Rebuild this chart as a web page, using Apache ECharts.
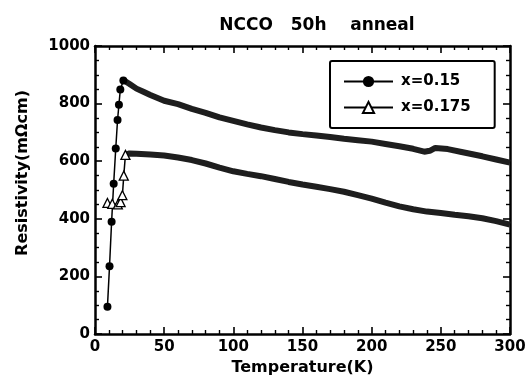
<!DOCTYPE html>
<html>
<head>
<meta charset="utf-8">
<script src="https://cdn.jsdelivr.net/npm/echarts@6/dist/echarts.min.js"></script>
<style>
html,body{margin:0;padding:0;background:#fff;overflow:hidden;}
#chart{width:529px;height:382px;}
</style>
</head>
<body>
<div id="chart"></div>
<script>
// ---- data ----
const titleText = 'NCCO   50h    anneal';
const seriesNames = ['x=0.15', 'x=0.175'];
const xTickValues = [0, 50, 100, 150, 200, 250, 300];
const yTickValues = [0, 200, 400, 600, 800, 1000];

// x=0.15 : individual markers in the superconducting transition
const tempMark015 = [9, 10.5, 12, 13.5, 15, 16.3, 17.3, 18.3, 20.5];
const resMark015  = [95, 235, 390, 522, 644, 743, 796, 849, 880];
// x=0.15 : dense measured band
const tempBand015 = [21, 25, 30, 35, 40, 50, 60, 70, 80, 90, 100, 110, 120, 130, 140, 150, 160, 170, 180, 190, 200, 210, 220, 230, 238, 242, 246, 255, 265, 280, 290, 300];
const resBand015  = [880, 868, 852, 841, 830, 810, 798, 782, 768, 752, 740, 728, 717, 708, 700, 694, 689, 684, 678, 673, 668, 660, 652, 643, 633, 636, 646, 642, 632, 617, 606, 595];

// x=0.175 : individual markers
const tempMark175 = [9, 12.5, 16.5, 18.5, 19.8, 20.8, 22];
const resMark175  = [455, 452, 450, 458, 482, 550, 622];
// x=0.175 : dense measured band
const tempBand175 = [22, 25, 30, 40, 50, 60, 70, 80, 90, 100, 110, 120, 130, 140, 150, 160, 170, 180, 190, 200, 210, 220, 230, 240, 250, 260, 270, 280, 290, 300];
const resBand175  = [622, 627, 626, 623, 620, 613, 604, 592, 578, 565, 556, 548, 538, 528, 519, 511, 503, 494, 482, 470, 456, 443, 433, 425, 420, 414, 409, 402, 392, 380];

// ---- build ----
const zip = (a, b) => a.map((v, i) => [v, b[i]]);
const FONT = 'DejaVu Sans';
const xMin = xTickValues[0], xMax = xTickValues[xTickValues.length - 1];
const yMin = yTickValues[0], yMax = yTickValues[yTickValues.length - 1];
const xInt = xTickValues[1] - xTickValues[0];
const yInt = yTickValues[1] - yTickValues[0];

const chart = echarts.init(document.getElementById('chart'));
chart.setOption({
  backgroundColor: '#fff',
  animation: false,
  color: ['#000', '#000'],
  title: {
    text: titleText,
    left: 312, top: 12, textAlign: 'center',
    textStyle: { fontFamily: FONT, fontSize: 17, fontWeight: 'bold', color: '#000' }
  },
  legend: {
    data: seriesNames,
    orient: 'vertical',
    left: 330, top: 61,
    padding: [13, 24, 13, 13],
    itemWidth: 49, itemHeight: 14, itemGap: 11,
    borderColor: '#000', borderWidth: 2, borderRadius: 2,
    backgroundColor: '#fff',
    textStyle: { fontFamily: FONT, fontSize: 15, fontWeight: 'bold', color: '#000', padding: [0, 0, 0, 3] }
  },
  grid: { left: 95, right: 19, top: 46, bottom: 48 },
  xAxis: [
    { type: 'value', min: xMin, max: xMax, interval: xInt, position: 'bottom',
      name: 'Temperature(K)', nameLocation: 'middle', nameGap: 23,
      nameTextStyle: { fontFamily: FONT, fontSize: 16, fontWeight: 'bold', color: '#000' },
      axisLine: { show: true, onZero: false, lineStyle: { color: '#000', width: 2.5 } },
      axisTick: { show: true, inside: true, length: 7, lineStyle: { color: '#000', width: 1.6 } },
      minorTick: { show: true, splitNumber: 5, length: 4, lineStyle: { color: '#000', width: 1.4 } },
      axisLabel: { margin: 6, formatter: v => String(v), fontFamily: FONT, fontSize: 15, fontWeight: 'bold', color: '#000' },
      splitLine: { show: false } },
    { type: 'value', min: xMin, max: xMax, interval: xInt, position: 'top',
      axisLine: { show: true, onZero: false, lineStyle: { color: '#000', width: 2.5 } },
      axisTick: { show: true, inside: true, length: 7, lineStyle: { color: '#000', width: 1.6 } },
      minorTick: { show: true, splitNumber: 5, length: 4, lineStyle: { color: '#000', width: 1.4 } },
      axisLabel: { show: false },
      splitLine: { show: false } }
  ],
  yAxis: [
    { type: 'value', min: yMin, max: yMax, interval: yInt, position: 'left',
      name: 'Resistivity(mΩcm)', nameLocation: 'middle', nameGap: 64,
      nameTextStyle: { fontFamily: FONT, fontSize: 16, fontWeight: 'bold', color: '#000', padding: [0, 0, 0, 34] },
      axisLine: { show: true, onZero: false, lineStyle: { color: '#000', width: 2.5 } },
      axisTick: { show: true, inside: true, length: 7, lineStyle: { color: '#000', width: 1.6 } },
      minorTick: { show: true, splitNumber: 4, length: 4, lineStyle: { color: '#000', width: 1.4 } },
      axisLabel: { margin: 5, formatter: v => String(v), fontFamily: FONT, fontSize: 15, fontWeight: 'bold', color: '#000' },
      splitLine: { show: false } },
    { type: 'value', min: yMin, max: yMax, interval: yInt, position: 'right',
      axisLine: { show: true, onZero: false, lineStyle: { color: '#000', width: 2.5 } },
      axisTick: { show: true, inside: true, length: 7, lineStyle: { color: '#000', width: 1.6 } },
      minorTick: { show: true, splitNumber: 4, length: 4, lineStyle: { color: '#000', width: 1.4 } },
      axisLabel: { show: false },
      splitLine: { show: false } }
  ],
  series: [
    {
      name: seriesNames[0], type: 'line', xAxisIndex: 0, yAxisIndex: 0,
      data: zip(tempMark015, resMark015),
      symbol: 'circle', symbolSize: 8, showSymbol: true,
      itemStyle: { color: '#000' },
      lineStyle: { color: '#000', width: 1.5 }, z: 4
    },
    {
      name: seriesNames[1], type: 'line', xAxisIndex: 0, yAxisIndex: 0,
      data: zip(tempMark175, resMark175),
      symbol: 'triangle', symbolSize: 9, showSymbol: true,
      itemStyle: { color: '#fff', borderColor: '#000', borderWidth: 1.3 },
      lineStyle: { color: '#000', width: 1.5 }, z: 5
    },
    {
      name: seriesNames[1], type: 'line', xAxisIndex: 0, yAxisIndex: 0,
      data: zip(tempBand175, resBand175), symbol: 'none', showSymbol: false,
      lineStyle: { color: '#1e1e1e', width: 6 }, z: 2
    },
    {
      name: seriesNames[0], type: 'line', xAxisIndex: 0, yAxisIndex: 0,
      data: zip(tempBand015, resBand015), symbol: 'none', showSymbol: false,
      lineStyle: { color: '#1e1e1e', width: 6 }, z: 2
    }
  ]
});
</script>
</body>
</html>
